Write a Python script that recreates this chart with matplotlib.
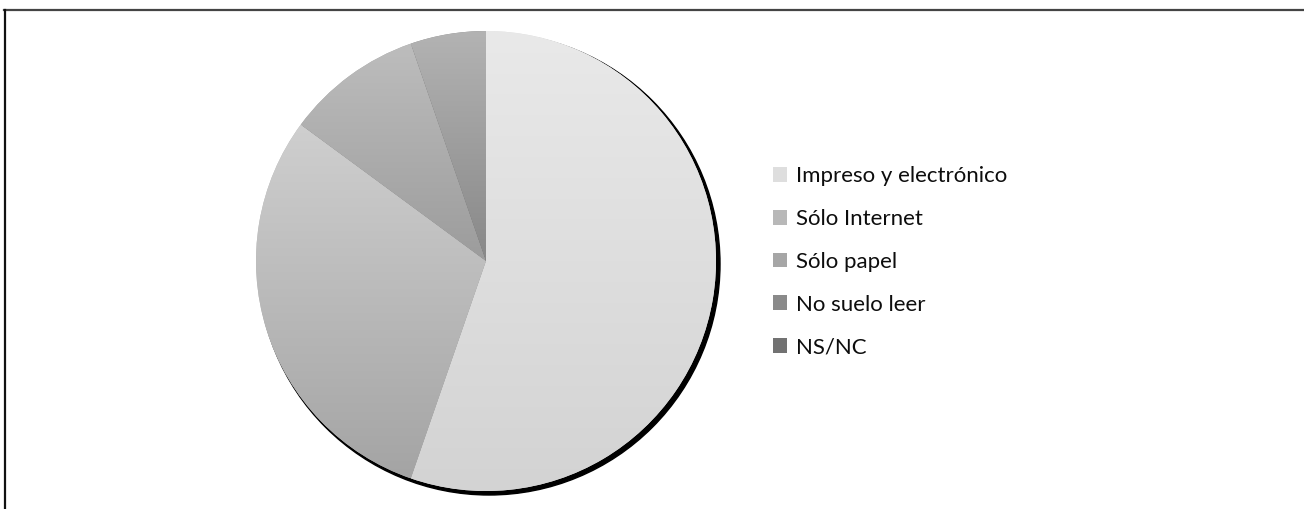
import numpy as np
import matplotlib
matplotlib.use('Agg')
import matplotlib.pyplot as plt
from matplotlib.lines import Line2D
from matplotlib.colors import LinearSegmentedColormap

plt.rcParams['font.family'] = ['Lato', 'DejaVu Sans']

# data
labels = ['Impreso y electrónico', 'Sólo Internet', 'Sólo papel',
          'No suelo leer', 'NS/NC']
values = [55.3, 29.8, 9.6, 5.3, 0.0]

# gradient colours per slice (top, bottom)
top_cols = ['#e9e9e9', '#cfcfcf', '#bdbdbd', '#b3b3b3', '#9a9a9a']
bot_cols = ['#d3d3d3', '#a4a4a4', '#9c9c9c', '#888888', '#6e6e6e']
mid_cols = ['#dedede', '#b8b8b8', '#a6a6a6', '#8a8a8a', '#727272']

W, H = 1304, 509
fig = plt.figure(figsize=(W / 100, H / 100), dpi=100)
ax = fig.add_axes([0, 0, 1, 1])
ax.set_xlim(0, W)
ax.set_ylim(0, H)
ax.set_aspect('equal')
ax.axis('off')

cx, cy, r = 486, H - 261, 230

# shadow
shadow = plt.Circle((cx + 3, cy - 3), r + 1, color='black', zorder=0)
ax.add_patch(shadow)

wedges, _ = ax.pie(values, startangle=90, counterclock=False, colors=mid_cols,
                   radius=r, center=(cx, cy), frame=True,
                   wedgeprops=dict(linewidth=0))
ax.set_xlim(0, W)
ax.set_ylim(0, H)
ax.axis('off')

grad = np.linspace(0, 1, 256).reshape(-1, 1)
for w, c0, c1 in zip(wedges, top_cols, bot_cols):
    bb = w.get_path().get_extents()
    if bb.width <= 0 or bb.height <= 0:
        continue
    cmap = LinearSegmentedColormap.from_list('g', [c0, c1])
    im = ax.imshow(grad, cmap=cmap, aspect='auto', origin='upper',
                   extent=(bb.x0, bb.x1, bb.y0, bb.y1), zorder=2,
                   interpolation='bilinear')
    im.set_clip_path(w)
ax.set_xlim(0, W)
ax.set_ylim(0, H)

leg = ax.legend(wedges, labels, loc='upper left',
                bbox_to_anchor=(773 / W, 1 - 166 / H),
                bbox_transform=fig.transFigure, frameon=False,
                fontsize=16, handlelength=0.65, handleheight=0.65,
                handletextpad=0.4, labelspacing=1.03, borderpad=0,
                borderaxespad=0)
for t in leg.get_texts():
    t.set_color('#0d0d0d')

# outer frame (top and left edges)
fig.add_artist(Line2D([4 / W, 1], [1 - 9.5 / H, 1 - 9.5 / H],
                      transform=fig.transFigure, color='#444444', lw=1.6))
fig.add_artist(Line2D([5 / W, 5 / W], [0, 1 - 9.5 / H],
                      transform=fig.transFigure, color='#111111', lw=1.6))

fig.savefig('out.png', dpi=100)
